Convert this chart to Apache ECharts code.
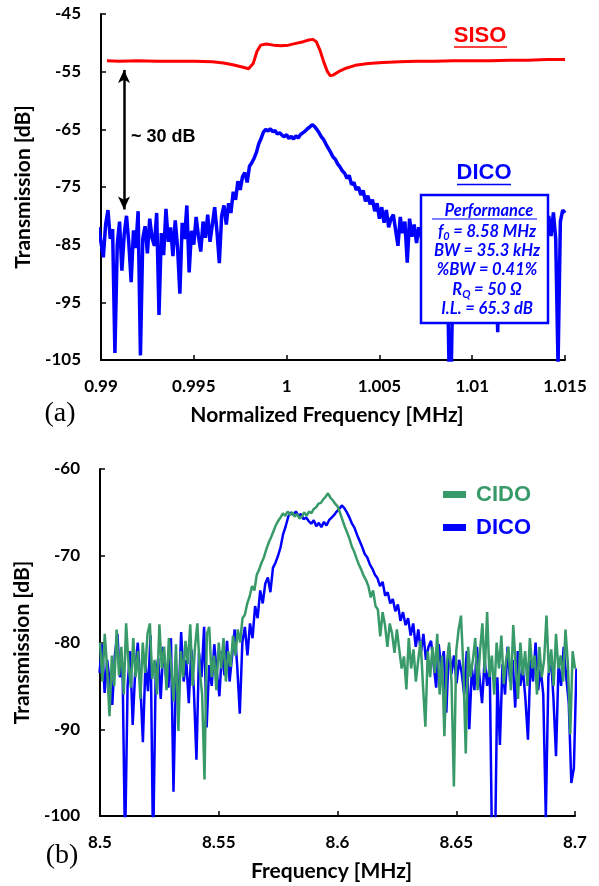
<!DOCTYPE html>
<html><head><meta charset="utf-8">
<script src="https://cdn.jsdelivr.net/npm/echarts@6/dist/echarts.min.js"></script>
<style>html,body{margin:0;padding:0;background:#fff}#c{width:599px;height:886px}</style>
</head><body><div id="c"></div>
<script>
// ---------- data ----------
const sisoFreq = [0.99032,0.9910,0.9920,0.9930,0.9940,0.9950,0.9960,0.9966,0.9971,0.9976,0.99795,0.9982,0.9984,0.9986,0.9989,0.9993,0.9997,1.0001,1.0005,1.0009,1.0012,1.00142,1.0016,1.0018,1.0020,1.0022,1.00235,1.0025,1.0028,1.0032,1.0037,1.0044,1.0052,1.0061,1.0070,1.0080,1.0090,1.0100,1.0110,1.0120,1.0130,1.0140,1.0150];
const sisoValues = [-53.1,-53.2,-53.1,-53.2,-53.2,-53.2,-53.3,-53.5,-53.8,-54.2,-54.5,-53.6,-51.5,-50.4,-50.2,-50.4,-50.5,-50.4,-50.1,-49.8,-49.5,-49.4,-49.8,-51.3,-53.3,-55.0,-55.7,-55.6,-55.0,-54.4,-53.9,-53.6,-53.4,-53.3,-53.2,-53.2,-53.1,-53.1,-53.1,-53.0,-53.0,-52.9,-52.9];

// DICO measured on a normalized frequency grid (start, step)
const dicoNormStart = 0.9895, dicoNormStep = 0.000125;
const dicoValues = [
-83.5,-80.2,-85.8,-82.0,-84.6,-87.2,-81.5,-79.0,-84.0,-82.3,
-103.8,-85.0,-81.0,-89.5,-83.2,-80.0,-84.8,-91.5,-82.5,-85.6,
-79.2,-104.2,-84.0,-81.8,-86.5,-80.5,-83.8,-85.2,-79.5,-97.2,
-83.0,-86.8,-78.8,-84.5,-82.0,-87.0,-80.8,-85.5,-93.5,-81.2,
-84.0,-78.2,-89.8,-82.6,-85.0,-80.2,-83.5,-86.2,-81.0,-83.8,
-79.8,-84.5,-81.5,-78.5,-82.8,-88.2,-80.0,-78.2,-81.5,-77.8,
-79.5,-75.8,-77.2,-74.0,-75.5,-73.2,-72.5,-74.2,-71.4,-70.8,
-70.0,-69.0,-67.5,-66.6,-65.5,-65.0,-65.3,-64.9,-65.4,-65.2,
-65.8,-65.6,-66.0,-66.3,-65.9,-66.6,-66.2,-66.7,-66.1,-66.5,
-65.9,-65.6,-65.3,-64.9,-64.6,-64.2,-64.5,-65.0,-65.6,-66.3,
-66.8,-67.6,-68.3,-69.0,-69.8,-70.2,-71.0,-71.5,-72.2,-72.6,
-73.5,-73.0,-74.6,-74.2,-75.5,-75.0,-76.4,-75.6,-77.5,-76.5,
-78.0,-77.2,-79.2,-77.8,-80.5,-78.5,-81.2,-79.0,-82.0,-80.5,
-79.8,-82.5,-85.2,-80.2,-83.0,-81.0,-88.1,-80.5,-83.6,-81.5,
-84.7,-82.0,-83.5,-86.0,-81.0,-90.0,-83.0,-85.5,-80.5,-84.0,
-87.0,-82.0,-85.0,-82.5,-106,-106,-84.0,-91.8,-82.5,-86.0,
-80.5,-84.5,-82.0,-87.5,-81.0,-85.0,-83.0,-86.5,-91.2,-82.0,
-84.5,-80.0,-85.5,-83.0,-86.0,-100.2,-84.0,-81.5,-86.5,-93.1,
-82.5,-85.0,-80.5,-84.0,-87.0,-96.2,-94.5,-83.0,-85.5,-81.0,
-84.5,-82.0,-86.0,-81.5,-84.0,-82.0,-85.5,-80.0,-83.5,-79.4,
-84.0,-106,-81.0,-79.0,-79.5];
const dicoCenterMHz = 8.59;

// CIDO measured on an absolute frequency grid (start, step) in MHz
const cidoFreqStart = 8.5, cidoFreqStep = 0.001;
const cidoValues = [
-80.0,-84.5,-79.0,-83.0,-88.5,-81.5,-85.0,-78.5,-83.8,-80.5,
-86.0,-77.8,-82.5,-85.2,-79.5,-84.0,-81.0,-86.5,-80.0,-83.5,
-79.0,-77.8,-84.2,-82.0,-86.0,-77.9,-83.0,-80.5,-85.5,-79.5,
-82.8,-86.8,-80.2,-90.2,-81.0,-84.0,-79.8,-82.5,-77.9,-85.0,
-80.5,-77.8,-83.2,-86.0,-95.8,-79.0,-78.2,-84.0,-81.5,-85.5,
-80.0,-83.0,-79.5,-84.5,-81.0,-82.8,-79.2,-81.5,-78.5,-80.0,
-77.2,-76.8,-75.5,-74.7,-73.5,-74.0,-72.2,-71.6,-70.8,-70.2,
-69.3,-68.5,-67.9,-67.2,-66.5,-66.0,-65.6,-65.1,-65.4,-64.9,
-65.3,-65.0,-65.5,-65.2,-65.7,-65.5,-65.0,-65.4,-64.9,-65.1,
-64.6,-64.4,-64.0,-63.9,-63.5,-63.2,-62.8,-63.3,-63.6,-64.0,
-64.3,-65.0,-65.8,-66.6,-67.3,-68.0,-68.9,-69.5,-70.3,-71.0,
-71.6,-72.3,-72.8,-73.5,-74.8,-74.0,-75.8,-76.2,-79.3,-76.5,
-78.0,-80.5,-77.8,-79.0,-81.2,-78.5,-80.8,-83.0,-81.6,-85.4,
-79.5,-83.0,-80.8,-84.5,-82.0,-79.8,-85.0,-89.7,-81.0,-84.0,
-80.5,-83.5,-79.0,-86.0,-81.5,-90.8,-82.5,-80.0,-84.5,-96.6,
-81.0,-78.5,-76.9,-83.0,-92.8,-80.5,-84.0,-82.0,-79.5,-85.5,
-81.0,-77.8,-83.5,-76.5,-84.0,-81.5,-86.0,-80.0,-83.0,-79.2,
-84.8,-82.0,-80.5,-85.5,-78.0,-82.5,-86.5,-80.0,-83.8,-81.0,
-85.0,-79.5,-83.0,-81.5,-86.0,-80.5,-84.0,-82.0,-76.9,-83.5,
-80.8,-85.0,-79.0,-83.0,-81.5,-84.5,-78.5,-82.5,-90.6,-81.0,
-83.0];

const topXTicks = [0.99, 0.995, 1, 1.005, 1.01, 1.015];
const topYTicks = [-105, -95, -85, -75, -65, -55, -45];
const botXTicks = [8.5, 8.55, 8.6, 8.65, 8.7];
const botYTicks = [-100, -90, -80, -70, -60];
const arrowFreq = 0.99124, arrowFrom = -54.7, arrowTo = -78.9;

// ---------- build ----------
const sisoData = sisoFreq.map((f, i) => [f, sisoValues[i]]);
const dicoTop = dicoValues.map((v, i) => [+(dicoNormStart + i * dicoNormStep).toFixed(6), v]);
const dicoBot = dicoTop.map(p => [+(p[0] * dicoCenterMHz).toFixed(6), p[1]]);
const cidoData = cidoValues.map((v, j) => [+(cidoFreqStart + j * cidoFreqStep).toFixed(4), v]);

const RED = '#ff0000', BLUE = '#0000ff', GREEN = '#389a69';
const TICKFONT = {color: '#000', fontFamily: 'Lato', fontWeight: 'bold', fontSize: 17};
const NAMEFONT = {color: '#000', fontFamily: 'Lato', fontWeight: 'bold', fontSize: 21};

function xAxisCfg(grid, min, max, ticks, name) {
  return {
    type: 'value', gridIndex: grid, min, max, name, nameLocation: 'middle', nameGap: 45,
    nameTextStyle: Object.assign({padding: [0, 12, 0, 0]}, NAMEFONT),
    axisLine: {show: true, onZero: false, lineStyle: {color: '#000', width: 2}},
    axisTick: {show: true, inside: true, length: 5, customValues: ticks, lineStyle: {color: '#000', width: 1.5}},
    axisLabel: Object.assign({margin: 18, customValues: ticks, formatter: v => String(+(+v).toFixed(3))}, TICKFONT),
    splitLine: {show: false}
  };
}
function yAxisCfg(grid, min, max, ticks) {
  return {
    type: 'value', gridIndex: grid, min, max, name: 'Transmission [dB]', nameLocation: 'middle', nameGap: 64,
    nameTextStyle: NAMEFONT,
    axisLine: {show: true, onZero: false, lineStyle: {color: '#000', width: 2}},
    axisTick: {show: true, inside: true, length: 5, customValues: ticks, lineStyle: {color: '#000', width: 1.5}},
    axisLabel: Object.assign({margin: 20, customValues: ticks}, TICKFONT),
    splitLine: {show: false}
  };
}

const perfFont = 'italic bold 16.5px Lato';
const perfLines = [
  {y: 231.5, text: '{t|f}{s|0}{t| = 8.58 MHz}'},
  {y: 251, text: '{t|BW = 35.3 kHz}'},
  {y: 270, text: '{t|%BW = 0.41%}'},
  {y: 289.5, text: '{t|R}{s|Q}{t| = 50 Ω}'},
  {y: 308.5, text: '{t|I.L. = 65.3 dB}'}
];
const richPerf = {
  t: {font: perfFont, fill: BLUE, lineHeight: 20, verticalAlign: 'middle'},
  s: {font: 'italic bold 11px Lato', fill: BLUE, lineHeight: 20, verticalAlign: 'bottom'}
};

const graphics = [
  {type: 'text', x: 131, y: 137, z: 50, style: {text: '~ 30 dB', font: 'bold 18px "Liberation Sans"', fill: '#000', align: 'left', verticalAlign: 'middle'}},
  {type: 'text', x: 480, y: 36, z: 50, style: {text: 'SISO', font: 'bold 22px "Liberation Sans"', fill: RED, align: 'center', verticalAlign: 'middle'}},
  {type: 'line', z: 50, shape: {x1: 454, y1: 47, x2: 507, y2: 47}, style: {stroke: RED, lineWidth: 1.5}},
  {type: 'text', x: 484, y: 173, z: 50, style: {text: 'DICO', font: 'bold 22px "Liberation Sans"', fill: BLUE, align: 'center', verticalAlign: 'middle'}},
  {type: 'line', z: 50, shape: {x1: 457, y1: 184.5, x2: 511, y2: 184.5}, style: {stroke: BLUE, lineWidth: 1.5}},
  {type: 'rect', z: 60, shape: {x: 421, y: 195, width: 127, height: 128}, style: {fill: '#fff', stroke: BLUE, lineWidth: 2.5}},
  {type: 'text', x: 489, y: 211, z: 61, style: {text: 'Performance', font: perfFont, fill: BLUE, align: 'center', verticalAlign: 'middle'}},
  {type: 'line', z: 61, shape: {x1: 432, y1: 219, x2: 537, y2: 219}, style: {stroke: BLUE, lineWidth: 1.2}},
  ...perfLines.map(l => ({type: 'text', x: 487, y: l.y, z: 61, style: {text: l.text, rich: richPerf, align: 'center', verticalAlign: 'middle'}})),
  {type: 'text', x: 60, y: 414, z: 50, style: {text: '(a)', font: '28px "Liberation Serif"', fill: '#000', align: 'center', verticalAlign: 'middle'}},
  {type: 'text', x: 62, y: 856, z: 50, style: {text: '(b)', font: '28px "Liberation Serif"', fill: '#000', align: 'center', verticalAlign: 'middle'}}
];

const chart = echarts.init(document.getElementById('c'), null, {renderer: 'canvas'});
chart.setOption({
  animation: false,
  backgroundColor: '#fff',
  grid: [
    {left: 101, top: 14, width: 464, height: 346},
    {left: 100, top: 469, width: 475, height: 347}
  ],
  xAxis: [
    xAxisCfg(0, 0.99, 1.015, topXTicks, 'Normalized Frequency [MHz]'),
    xAxisCfg(1, 8.5, 8.7, botXTicks, 'Frequency [MHz]')
  ],
  yAxis: [
    yAxisCfg(0, -105, -45, topYTicks),
    yAxisCfg(1, -100, -60, botYTicks)
  ],
  legend: {
    left: 438, top: 477, orient: 'vertical', icon: 'rect', itemWidth: 23, itemHeight: 7, itemGap: 8,
    selectedMode: false,
    textStyle: {fontFamily: 'Liberation Sans', fontWeight: 'bold', fontSize: 22, lineHeight: 25, padding: [0, 0, 0, 5]},
    data: [
      {name: 'CIDO', textStyle: {color: GREEN}},
      {name: 'DICO', textStyle: {color: BLUE}}
    ]
  },
  graphic: graphics,
  series: [
    {name: 'SISO (a)', type: 'line', xAxisIndex: 0, yAxisIndex: 0, data: sisoData, showSymbol: false, symbol: 'none',
     lineStyle: {color: RED, width: 3}, itemStyle: {color: RED},
     markLine: {silent: true, animation: false, symbol: ['arrow', 'arrow'], symbolSize: [9, 13],
       lineStyle: {color: '#000', width: 2.5, type: 'solid'}, label: {show: false},
       data: [[{coord: [arrowFreq, arrowFrom]}, {coord: [arrowFreq, arrowTo]}]]}},
    {name: 'DICO (a)', type: 'line', xAxisIndex: 0, yAxisIndex: 0, data: dicoTop, showSymbol: false, symbol: 'none',
     lineStyle: {color: BLUE, width: 3.5}, itemStyle: {color: BLUE}},
    {name: 'DICO', type: 'line', xAxisIndex: 1, yAxisIndex: 1, data: dicoBot, showSymbol: false, symbol: 'none',
     lineStyle: {color: BLUE, width: 2.5}, itemStyle: {color: BLUE}},
    {name: 'CIDO', type: 'line', xAxisIndex: 1, yAxisIndex: 1, data: cidoData, showSymbol: false, symbol: 'none',
     lineStyle: {color: GREEN, width: 2.5}, itemStyle: {color: GREEN}}
  ]
});
</script></body></html>
